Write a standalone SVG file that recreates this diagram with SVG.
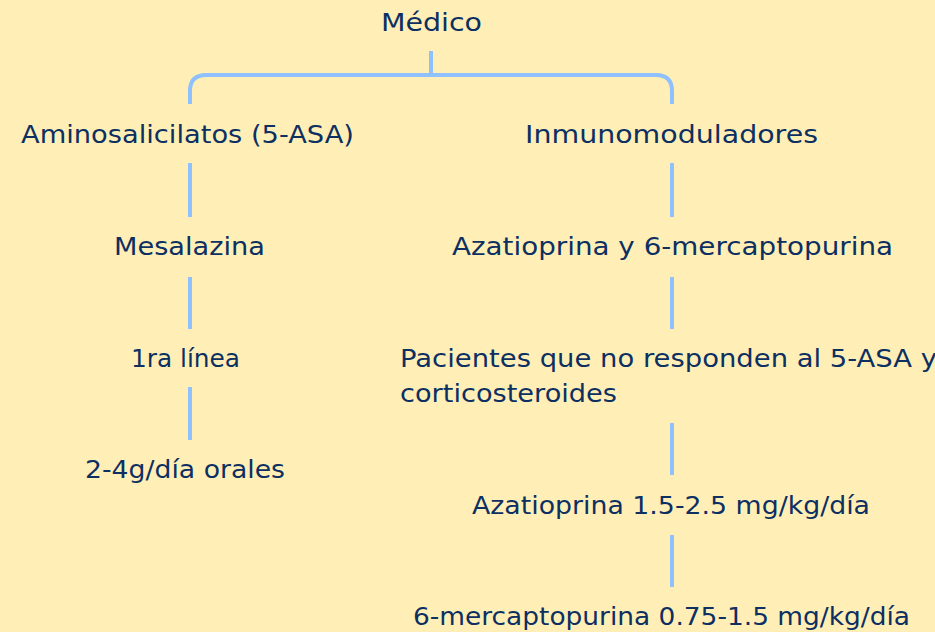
<svg xmlns="http://www.w3.org/2000/svg" width="935" height="632" viewBox="0 0 935 632">
<style>
.t{font-family:"DejaVu Sans","Open Sans",sans-serif;font-size:25px;fill:#0D2F62;}
.c{fill:none;stroke:#8FC0FF;stroke-width:4;}
</style>
<rect width="935" height="632" fill="#FFEFB6"/>
<g id="connectors" class="c">
<path d="M431,51 V75"/>
<path d="M190,104 V91 Q190,75 206,75 H656 Q672,75 672,91 V104"/>
<path d="M190,163 V217"/>
<path d="M190,277 V329"/>
<path d="M190,387 V440"/>
<path d="M672,163 V217"/>
<path d="M672,277 V329"/>
<path d="M672,423 V475"/>
<path d="M672,535 V587"/>
</g>
<g id="n-medico"><text class="t" x="381" y="31" textLength="101" lengthAdjust="spacingAndGlyphs">Médico</text></g>
<g id="n-amino"><text class="t" x="21" y="143" textLength="333" lengthAdjust="spacingAndGlyphs">Aminosalicilatos (5-ASA)</text></g>
<g id="n-inmuno"><text class="t" x="525" y="143" textLength="293" lengthAdjust="spacingAndGlyphs">Inmunomoduladores</text></g>
<g id="n-mesalazina"><text class="t" x="114" y="255" textLength="151" lengthAdjust="spacingAndGlyphs">Mesalazina</text></g>
<g id="n-aza6mp"><text class="t" x="452" y="255" textLength="441" lengthAdjust="spacingAndGlyphs">Azatioprina y 6-mercaptopurina</text></g>
<g id="n-1ra"><text class="t" x="131" y="367" textLength="109" lengthAdjust="spacingAndGlyphs">1ra línea</text></g>
<g id="n-pacientes"><text class="t" x="400" y="367" textLength="537" lengthAdjust="spacingAndGlyphs">Pacientes que no responden al 5-ASA y</text><text class="t" x="400" y="402" textLength="217" lengthAdjust="spacingAndGlyphs">corticosteroides</text></g>
<g id="n-dosis"><text class="t" x="85" y="478" textLength="200" lengthAdjust="spacingAndGlyphs">2-4g/día orales</text></g>
<g id="n-aza"><text class="t" x="472" y="514" textLength="398" lengthAdjust="spacingAndGlyphs">Azatioprina 1.5-2.5 mg/kg/día</text></g>
<g id="n-6mp"><text class="t" x="413" y="625" textLength="497" lengthAdjust="spacingAndGlyphs">6-mercaptopurina 0.75-1.5 mg/kg/día</text></g>
</svg>
